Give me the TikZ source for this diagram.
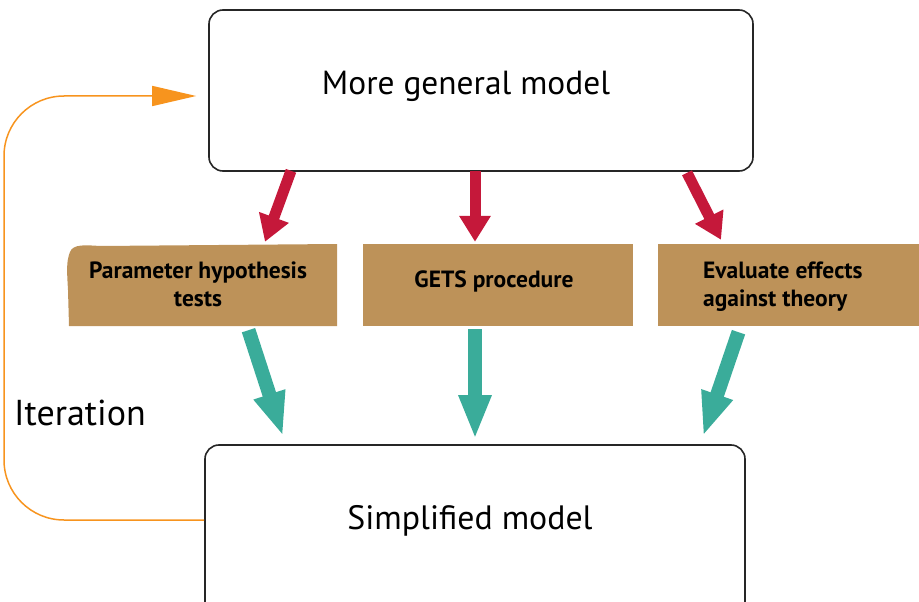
\documentclass[tikz,border=0pt]{standalone}
\usepackage{fontspec}
\setmainfont{PT Sans}
\usetikzlibrary{arrows.meta}
\definecolor{redarr}{HTML}{C5183A}
\definecolor{tealarr}{HTML}{3AAC9A}
\definecolor{brownbox}{HTML}{BD9259}
\definecolor{orangeln}{HTML}{F7941E}
\begin{document}
\begin{tikzpicture}[x=1pt,y=-1pt,
  modelbox/.style={draw=black!85,line width=1.6pt,rounded corners=14pt,fill=white,inner sep=0pt},
  labeltext/.style={font=\fontsize{23.5}{28}\selectfont\bfseries,align=center,inner sep=0pt},
  redarrow/.style={draw=redarr,line width=11pt,-{Triangle[length=26pt,width=30pt]}},
  tealarrow/.style={draw=tealarr,line width=14pt,-{Triangle[length=44pt,width=30pt]}},
  iterline/.style={draw=orangeln,line width=1.5pt,rounded corners=60pt,-{Triangle[length=44pt,width=20pt]}}]
\useasboundingbox (0,0) rectangle (919,602);
% model boxes
\node[modelbox,minimum width=544pt,minimum height=161pt] (top) at (481,90.5) {};
\node[font=\fontsize{33.4}{40}\selectfont,inner sep=0pt] (toptext) at (466,86) {More general model};
\node[modelbox,minimum width=540pt,minimum height=175pt] (bottom) at (475,532.5) {};
\node[font=\fontsize{33.8}{40}\selectfont,inner sep=0pt] (bottomtext) at (470,521) {Simplified model};
% brown boxes
\fill[brownbox] (69,326) -- (68,290) .. controls (67,272) and (66,262) .. (70,252)
  .. controls (73,244) and (85,245) .. (100,246) -- (337,244) -- (337,326) -- cycle;
\node[minimum width=270pt,minimum height=82pt,inner sep=0pt] (box1) at (202.5,285) {};
\node[labeltext] (box1text) at (198,284) {Parameter hypothesis\\tests};
\node[fill=brownbox,minimum width=270pt,minimum height=82pt,inner sep=0pt] (box2) at (498,285) {};
\node[labeltext] (box2text) at (494,281) {GETS procedure};
\node[fill=brownbox,minimum width=261pt,minimum height=82pt,inner sep=0pt] (box3) at (788.5,285) {};
\node[labeltext,align=left,anchor=west] (box3text) at (703,287) {Evaluate effects\\against theory};
% red arrows
\draw[redarrow] ([xshift=-190pt,yshift=1pt]top.south) -- ([xshift=62.5pt,yshift=2pt]box1.north);
\draw[redarrow] ([xshift=-6pt,yshift=1pt]top.south) -- ([xshift=-23pt,yshift=2pt]box2.north);
\draw[redarrow] ([xshift=206pt,yshift=-1pt]top.south) -- ([xshift=-67.5pt,yshift=4pt]box3.north);
% teal arrows
\draw[tealarrow] ([xshift=46pt,yshift=-4pt]box1.south) -- ([xshift=-192pt,yshift=8pt]bottom.north);
\draw[tealarrow] ([xshift=-23pt,yshift=-3pt]box2.south) -- ([xshift=0pt,yshift=5pt]bottom.north);
\draw[tealarrow] ([xshift=-50pt,yshift=-6pt]box3.south) -- ([xshift=228pt,yshift=8pt]bottom.north);
% iteration loop
\coordinate (loopend) at ([xshift=-12pt,yshift=-5.5pt]top.west);
\draw[iterline] ([yshift=12.5pt]bottom.west) -| (4,96) -- (loopend);
\node[font=\fontsize{36}{40}\selectfont,anchor=base west,inner sep=0pt] (iter) at (14,425) {Iteration};
\end{tikzpicture}
\end{document}
